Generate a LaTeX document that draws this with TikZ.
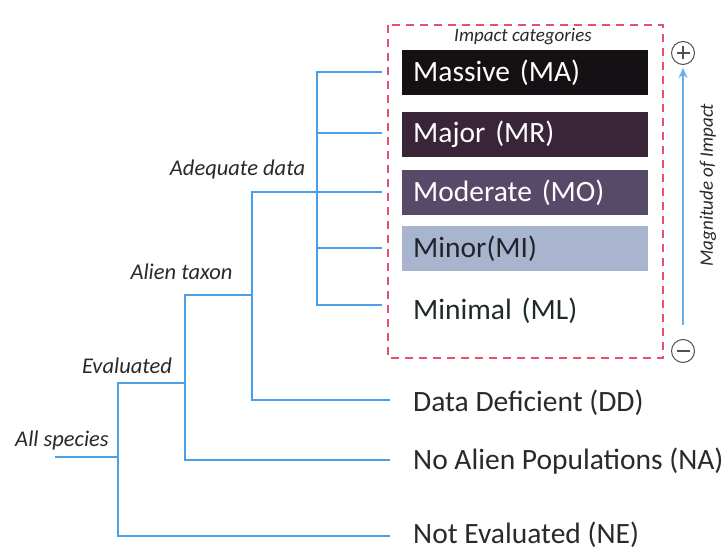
\documentclass[tikz,border=0pt]{standalone}
\usepackage{fontspec}
\setmainfont{Carlito}
\usetikzlibrary{arrows.meta}
\definecolor{treeblue}{HTML}{4A9FE8}
\definecolor{arrowblue}{HTML}{6AAEEA}
\definecolor{dashred}{HTML}{E8506A}
\definecolor{labelgray}{HTML}{2A2A2A}
\definecolor{cMA}{HTML}{141014}
\definecolor{cMR}{HTML}{3A2538}
\definecolor{cMO}{HTML}{574A69}
\definecolor{cMI}{HTML}{A9B5CF}
\definecolor{cML}{HTML}{1E2B2B}
\definecolor{circgray}{HTML}{505050}
\begin{document}
\begin{tikzpicture}[x=1pt,y=-1pt,
  branch/.style={draw=treeblue, line width=2pt, line join=miter},
  catbox/.style={anchor=west, minimum height=45pt, text width=224pt, inner xsep=11pt, inner ysep=0pt, align=left, font=\fontsize{29.5}{32}\selectfont, text=white},
  leaf/.style={anchor=west, inner sep=0pt, font=\fontsize{29.5}{32}\selectfont, text=labelgray},
  tag/.style={font=\itshape\fontsize{22.5}{26}\selectfont, text=labelgray, inner sep=0pt},
  dashbox/.style={draw=dashred, line width=2pt, dash pattern=on 8pt off 6pt},
  sign/.style={circle, draw=circgray, line width=1pt, minimum size=23pt, inner sep=0pt}]
\useasboundingbox[fill=white] (0,0) rectangle (722,553);

% dashed frame
\draw[dashbox] (388,25) rectangle (663,358);
\node[font=\itshape\fontsize{19}{22}\selectfont, text=labelgray, inner sep=0pt] (ictitle) at (523,37) {Impact categories};

% category boxes
\node[catbox, fill=cMA] (MA) at (402,72.5) {Massive (MA)};
\node[catbox, fill=cMR] (MR) at (402,134.5) {Major (MR)};
\node[catbox, fill=cMO] (MO) at (402,192.5) {Moderate (MO)};
\node[catbox, fill=cMI, text=cMI!20!black] (MI) at (402,248.5) {Minor(MI)};
\node[catbox, text=cML] (ML) at (402,311) {Minimal (ML)};

% other leaves
\node[leaf] (DD) at (413,403) {Data Deficient (DD)};
\node[leaf] (NA) at (413,461) {No Alien Populations (NA)};
\node[leaf] (NE) at (413,535) {Not Evaluated (NE)};

% tree coordinates
\coordinate (s0) at (55,457);
\coordinate (r) at (118,457);
\coordinate (rt) at (118,383);
\coordinate (rb) at (118,536);
\coordinate (et) at (185,295);
\coordinate (ej) at (185,383);
\coordinate (eb) at (185,460);
\coordinate (at) at (252,192);
\coordinate (aj) at (252,295);
\coordinate (ab) at (252,400);
\coordinate (qt) at (317,72);
\coordinate (qj) at (317,192);
\coordinate (qb) at (317,305);
\coordinate (lMA) at (382,72);
\coordinate (lMR) at (382,133);
\coordinate (lMO) at (382,192);
\coordinate (lMI) at (382,248);
\coordinate (lML) at (382,305);
\coordinate (lDD) at (390,400);
\coordinate (lNA) at (390,460);
\coordinate (lNE) at (390,536);

\draw[branch] (s0) -- (r);
\draw[branch] (lNE) -- (rb) -- (rt) -- (ej);
\draw[branch] (lNA) -- (eb) -- (et) -- (aj);
\draw[branch] (lDD) -- (ab) -- (at) -- (qj);
\draw[branch] (lML) -- (qb) -- (qt) -- (lMA);
\draw[branch] (qt |- lMR) -- (lMR);
\draw[branch] (qj) -- (lMO);
\draw[branch] (qt |- lMI) -- (lMI);

% branch labels
\node[tag] (tAD) at (237.5,170) {Adequate data};
\node[tag] (tAT) at (181.5,272) {Alien taxon};
\node[tag] (tEV) at (127,366) {Evaluated};
\node[tag] (tAS) at (62,440) {All species};

% magnitude scale
\node[sign] (plus) at (683,53) {};
\node[sign] (minus) at (683,351) {};
\draw[circgray, line width=1.2pt] ([xshift=-6.5pt]plus.center) -- ([xshift=6.5pt]plus.center);
\draw[circgray, line width=1.2pt] ([yshift=-6.5pt]plus.center) -- ([yshift=6.5pt]plus.center);
\draw[circgray, line width=1.2pt] ([xshift=-6.5pt]minus.center) -- ([xshift=6.5pt]minus.center);
\draw[arrowblue, line width=2pt, shorten <=14pt, shorten >=3pt, -{Stealth[length=10pt,width=9pt]}] (minus.north) -- (plus.south);
\node[rotate=90, font=\itshape\fontsize{19}{22}\selectfont, text=labelgray, inner sep=0pt] (mag) at (708,185) {Magnitude of Impact};
\end{tikzpicture}
\end{document}
